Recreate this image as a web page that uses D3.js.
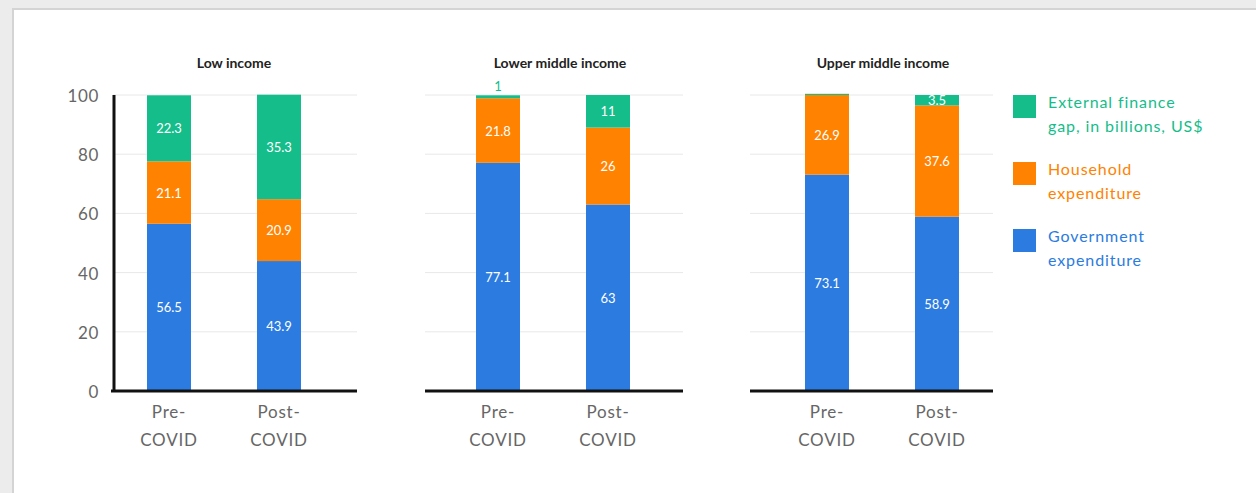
<!DOCTYPE html>
<html>
<head>
<meta charset="utf-8">
<script src="https://cdn.jsdelivr.net/npm/d3@7"></script>
<style>
  html, body { margin: 0; padding: 0; background: #ececec; }
  .frame { position: absolute; left: 12px; top: 8px; width: 1260px; height: 500px; background: #fff; border: 2px solid #d4d4d4; }
  svg { position: absolute; left: 0; top: 0; font-family: Lato, 'Noto Sans', sans-serif; }
</style>
</head>
<body>
<div class="frame"></div>
<div class="chart"></div>
<script>
// data
var panels = ['Low income', 'Lower middle income', 'Upper middle income'];
var periods = ['Pre-COVID', 'Post-COVID'];
var seriesNames = ['Government expenditure', 'Household expenditure', 'External finance gap, in billions, US$'];
var govValues = [[56.5, 43.9], [77.1, 63], [73.1, 58.9]];
var houseValues = [[21.1, 20.9], [21.8, 26], [26.9, 37.6]];
var extValues = [[22.3, 35.3], [1, 11], [0.4, 3.5]];
var yTicks = [0, 20, 40, 60, 80, 100];

var colors = ['#2b7be0', '#ff8200', '#15bd8a'];

// layout
var W = 1256, H = 493;
var panelExtent = [[113, 357], [425, 683], [750, 993]];
var bandStart = [114, 443, 772];
var titleX = [234, 560, 883];

const svg = d3.select('.chart').append('svg').attr('width', W).attr('height', H);

var y = d3.scaleLinear().domain([0, 100]).range([391, 95]);

// y tick labels
svg.append('g').selectAll('text').data(yTicks).join('text')
  .attr('x', 99).attr('y', d => y(d) + 7)
  .attr('text-anchor', 'end')
  .style('font-size', '17px').style('fill', '#666').style('letter-spacing', '0.6px')
  .text(d => d);

panels.forEach(function (name, p) {
  var g = svg.append('g');
  var x = d3.scaleBand().domain(periods)
    .range([bandStart[p], bandStart[p] + 220])
    .paddingInner(0.6).paddingOuter(0.3);

  // grid
  g.selectAll('.grid').data(yTicks.slice(1)).join('line')
    .attr('x1', panelExtent[p][0]).attr('x2', panelExtent[p][1])
    .attr('y1', d => y(d)).attr('y2', d => y(d))
    .style('stroke', '#e8e8e8').style('stroke-width', 1);

  var rows = periods.map((per, i) => ({
    period: per,
    gov: govValues[p][i], house: houseValues[p][i], ext: extValues[p][i]
  }));
  var stack = d3.stack().keys(['gov', 'house', 'ext'])(rows);

  stack.forEach(function (layer, k) {
    g.selectAll('.bar' + k).data(layer).join('rect')
      .attr('x', d => x(d.data.period))
      .attr('width', x.bandwidth())
      .attr('y', d => y(d[1]))
      .attr('height', d => y(d[0]) - y(d[1]))
      .style('fill', colors[k]);

    g.selectAll('.lab' + k).data(layer.filter(d => d[1] - d[0] >= 1)).join('text')
      .attr('x', d => x(d.data.period) + x.bandwidth() / 2)
      .attr('y', function (d) {
        var v = d[1] - d[0];
        return v < 3 ? y(d[1]) - 4 : y((d[0] + d[1]) / 2) + 5;
      })
      .attr('text-anchor', 'middle')
      .style('font-size', '13px')
      .style('fill', d => (d[1] - d[0]) < 3 ? colors[k] : '#fff')
      .text(d => +(d[1] - d[0]).toFixed(1));
  });

  // baseline
  g.append('line')
    .attr('x1', panelExtent[p][0] - (p === 0 ? 2 : 0)).attr('x2', panelExtent[p][1])
    .attr('y1', y(0)).attr('y2', y(0))
    .style('stroke', '#111').style('stroke-width', 3);

  // x labels
  periods.forEach(function (per) {
    var parts = per.split('-');
    var t = g.append('text')
      .attr('x', x(per) + x.bandwidth() / 2)
      .attr('text-anchor', 'middle')
      .style('font-size', '17px').style('fill', '#666').style('letter-spacing', '0.8px');
    t.append('tspan').attr('x', x(per) + x.bandwidth() / 2).attr('y', 418).text(parts[0] + '-');
    t.append('tspan').attr('x', x(per) + x.bandwidth() / 2).attr('y', 446).text(parts[1]);
  });

  // title
  g.append('text').attr('x', titleX[p]).attr('y', 68)
    .attr('text-anchor', 'middle')
    .style('font-size', '14px').style('font-weight', 'bold').style('fill', '#222')
    .text(name);
});

// y axis line
svg.append('line').attr('x1', 114).attr('x2', 114)
  .attr('y1', y(100)).attr('y2', y(0) + 1)
  .style('stroke', '#111').style('stroke-width', 3);

// legend
var legendLines = [
  ['External finance', 'gap, in billions, US$'],
  ['Household', 'expenditure'],
  ['Government', 'expenditure']
];
var legendOrder = [2, 1, 0];
var legend = svg.append('g').attr('transform', 'translate(1013,95)');
legendOrder.forEach(function (k, i) {
  var lg = legend.append('g').attr('transform', 'translate(0,' + i * 67 + ')');
  lg.append('rect').attr('width', 23).attr('height', 23).style('fill', colors[k]);
  var t = lg.append('text').style('font-size', '16px').style('fill', colors[k]).style('letter-spacing', '0.9px');
  legendLines[i].forEach(function (line, j) {
    t.append('tspan').attr('x', 35).attr('y', 13 + j * 24).text(line);
  });
});
</script>
</body>
</html>
